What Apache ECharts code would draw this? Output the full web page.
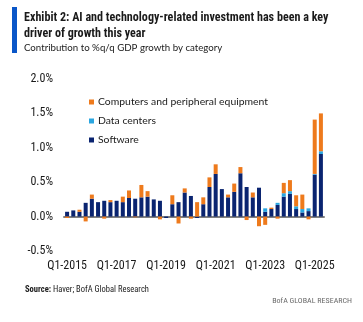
<!DOCTYPE html>
<html><head><meta charset="utf-8">
<script src="https://cdn.jsdelivr.net/npm/echarts@6/dist/echarts.min.js"></script>
<style>html,body{margin:0;padding:0;background:#fff}#c{width:363px;height:322px}</style>
</head><body><div id="c"></div>
<script>
const categories = [
 'Q1-2015','Q2-2015','Q3-2015','Q4-2015','Q1-2016','Q2-2016','Q3-2016','Q4-2016',
 'Q1-2017','Q2-2017','Q3-2017','Q4-2017','Q1-2018','Q2-2018','Q3-2018','Q4-2018',
 'Q1-2019','Q2-2019','Q3-2019','Q4-2019','Q1-2020','Q2-2020','Q3-2020','Q4-2020',
 'Q1-2021','Q2-2021','Q3-2021','Q4-2021','Q1-2022','Q2-2022','Q3-2022','Q4-2022',
 'Q1-2023','Q2-2023','Q3-2023','Q4-2023','Q1-2024','Q2-2024','Q3-2024','Q4-2024',
 'Q1-2025','Q2-2025'];
const software = [0.07,0.09,0.07,0.20,0.26,0.21,0.23,0.21,0.23,0.21,0.27,0.26,0.28,0.29,0.25,0.23,
 -0.02,0.18,0.21,0.35,0.30,-0.02,0.18,0.43,0.62,0.40,0.28,0.36,0.63,0.43,0.28,0.42,
 0.07,0.11,0.17,0.29,0.33,0.11,0.06,0.08,0.61,0.91];
const dataCenters = [0,0,0,0,0,0,0,0,0,0,0,0,0,0,0,0,
 0,0,0,0,0,0,0,0,0,0,0,0,0,0,0,0,
 0.05,0,0.03,0.05,0.04,0.04,0.05,0.04,0.01,0.04];
const computers = [-0.02,0,0.03,-0.07,0.06,0,-0.03,0.03,0,0.08,0.11,-0.01,0.18,0.08,0,-0.04,
 0,0.13,-0.10,0.06,-0.03,0.21,0.10,0.14,0.14,0,0.04,0.12,0.09,-0.05,0.07,-0.14,
 -0.12,0.02,-0.03,0.15,0.16,0.16,0.21,-0.04,0.79,0.55];
const yTicks = [-0.5,0,0.5,1.0,1.5,2.0];

const FC = "'Roboto Condensed','DejaVu Sans Condensed',sans-serif";
const FL = "Lato,'Open Sans',sans-serif";
const chart = echarts.init(document.getElementById('c'), null, {renderer:'canvas'});
chart.setOption({
  animation:false,
  backgroundColor:'#fff',
  graphic:[{type:'rect',shape:{x:12,y:7,width:5,height:46},style:{fill:'#0a56c8'}}],
  title:[
    {text:'Exhibit 2: AI and technology-related investment has been a key\ndriver of growth this year',
     left:24,top:10,padding:0,
     textStyle:{fontFamily:FC,fontWeight:'bold',fontSize:12.1,lineHeight:16,color:'#1a1a1a'}},
    {text:'Contribution to %q/q GDP growth by category',left:24,top:43,padding:0,
     textStyle:{fontFamily:FL,fontWeight:'normal',fontSize:9.7,color:'#1a1a1a'}},
    {text:'{b|Source:} Haver; BofA Global Research',left:25,top:285,padding:0,
     textStyle:{fontFamily:FC,fontWeight:'normal',fontSize:8.5,color:'#1a1a1a',
       rich:{b:{fontFamily:FC,fontWeight:'bold',fontSize:8.5,color:'#1a1a1a'}}}},
    {text:'BofA GLOBAL RESEARCH',right:11,top:297,padding:0,
     textStyle:{fontFamily:FC,fontWeight:'normal',fontSize:8,color:'#6a6a6a'}}
  ],
  legend:{
    data:['Computers and peripheral equipment','Data centers','Software'],
    orient:'vertical',left:84,top:92,itemWidth:5,itemHeight:5,itemGap:9,icon:'rect',
    textStyle:{fontFamily:FL,fontSize:10.4,color:'#1a1a1a',padding:[0,0,0,-1]}
  },
  grid:{left:64,right:39,top:79,bottom:71},
  xAxis:{type:'category',data:categories,
    axisLine:{onZero:true,lineStyle:{color:'#808080',width:2}},
    axisTick:{show:false},
    axisLabel:{interval:7,fontFamily:FC,fontSize:12,color:'#1a1a1a',margin:9}
  },
  yAxis:{type:'value',min:-0.5,max:2.0,interval:0.5,
    splitLine:{show:false},axisLine:{show:false},axisTick:{show:false},
    axisLabel:{fontFamily:FC,fontSize:12,color:'#1a1a1a',margin:11,
      formatter:v=>v.toFixed(1)+'%'}
  },
  series:[
    {name:'Software',type:'bar',stack:'a',data:software,barWidth:4,itemStyle:{color:'#0a2470'}},
    {name:'Data centers',type:'bar',stack:'a',data:dataCenters,barWidth:4,itemStyle:{color:'#2aa6e0'}},
    {name:'Computers and peripheral equipment',type:'bar',stack:'a',data:computers,barWidth:4,itemStyle:{color:'#ee7a1c'}}
  ]
});
</script></body></html>
